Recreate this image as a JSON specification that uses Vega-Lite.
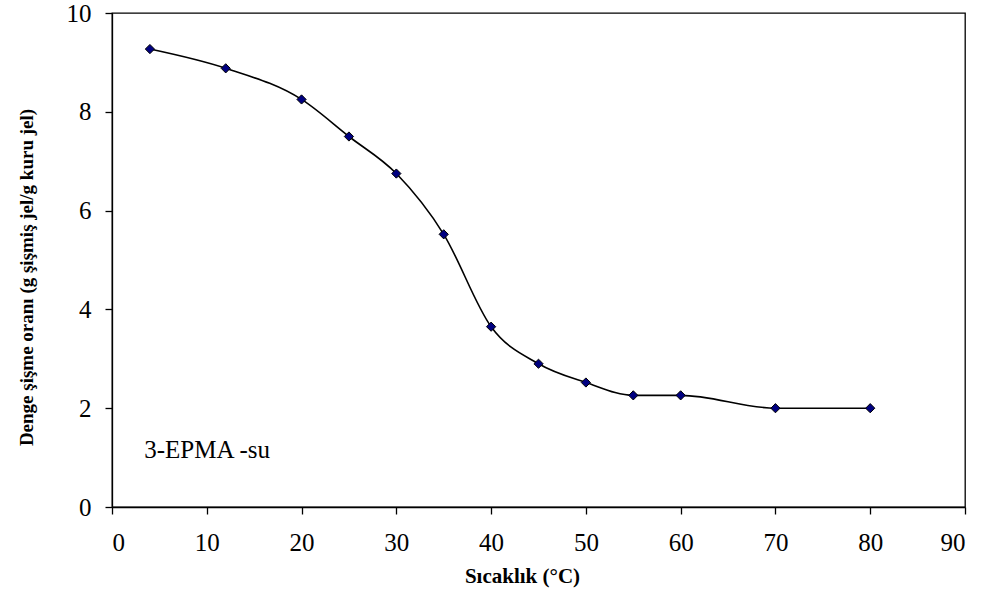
{
  "$schema": "https://vega.github.io/schema/vega-lite/v6.json",
  "autosize": "none",
  "width": 853,
  "height": 494,
  "padding": {"left": 112, "top": 13, "right": 24, "bottom": 100},
  "background": "white",
  "config": {
    "view": {"stroke": "black", "strokeWidth": 1.3},
    "font": "Times New Roman, Liberation Serif, serif",
    "axis": {
      "grid": false,
      "domainColor": "black",
      "domainWidth": 1.3,
      "tickColor": "black",
      "tickWidth": 1.3,
      "tickSize": 7,
      "labelFont": "Times New Roman, Liberation Serif, serif",
      "labelFontSize": 25,
      "labelColor": "black",
      "titleFont": "Times New Roman, Liberation Serif, serif",
      "titleColor": "black",
      "titleFontWeight": "bold"
    }
  },
  "layer": [
    {
      "data": {"values": [
        {"t": 4, "r": 9.27},
        {"t": 12, "r": 8.88},
        {"t": 20, "r": 8.25},
        {"t": 25, "r": 7.5},
        {"t": 30, "r": 6.75},
        {"t": 35, "r": 5.52},
        {"t": 40, "r": 3.65},
        {"t": 45, "r": 2.9},
        {"t": 50, "r": 2.52},
        {"t": 55, "r": 2.26},
        {"t": 60, "r": 2.26},
        {"t": 70, "r": 2.0},
        {"t": 80, "r": 2.0}
      ]},
      "layer": [
        {
          "mark": {"type": "line", "color": "black", "strokeWidth": 1.6, "interpolate": "monotone"},
          "encoding": {
            "x": {"field": "t", "type": "quantitative", "scale": {"domain": [0, 90], "nice": false}, "axis": {"values": [0,10,20,30,40,50,60,70,80,90], "labelPadding": 16, "title": "Sıcaklık (°C)", "titleFontSize": 21, "titlePadding": 10, "titleX": 410}},
            "y": {"field": "r", "type": "quantitative", "scale": {"domain": [0, 10], "nice": false}, "axis": {"values": [0,2,4,6,8,10], "labelPadding": 14, "title": "Denge şişme oranı (g şişmiş jel/g kuru jel)", "titleFontSize": 19, "titlePadding": 30, "titleY": 264}}
          }
        },
        {
          "mark": {"type": "point", "shape": "diamond", "filled": true, "fill": "#000080", "stroke": "black", "strokeWidth": 1, "size": 85, "opacity": 1},
          "encoding": {
            "x": {"field": "t", "type": "quantitative"},
            "y": {"field": "r", "type": "quantitative"}
          }
        }
      ]
    },
    {
      "data": {"values": [{"t": 3.4, "r": 1.15, "label": "3-EPMA -su"}]},
      "mark": {"type": "text", "align": "left", "baseline": "middle", "font": "Times New Roman, Liberation Serif, serif", "fontSize": 25, "color": "black"},
      "encoding": {
        "x": {"field": "t", "type": "quantitative"},
        "y": {"field": "r", "type": "quantitative"},
        "text": {"field": "label"}
      }
    }
  ]
}
